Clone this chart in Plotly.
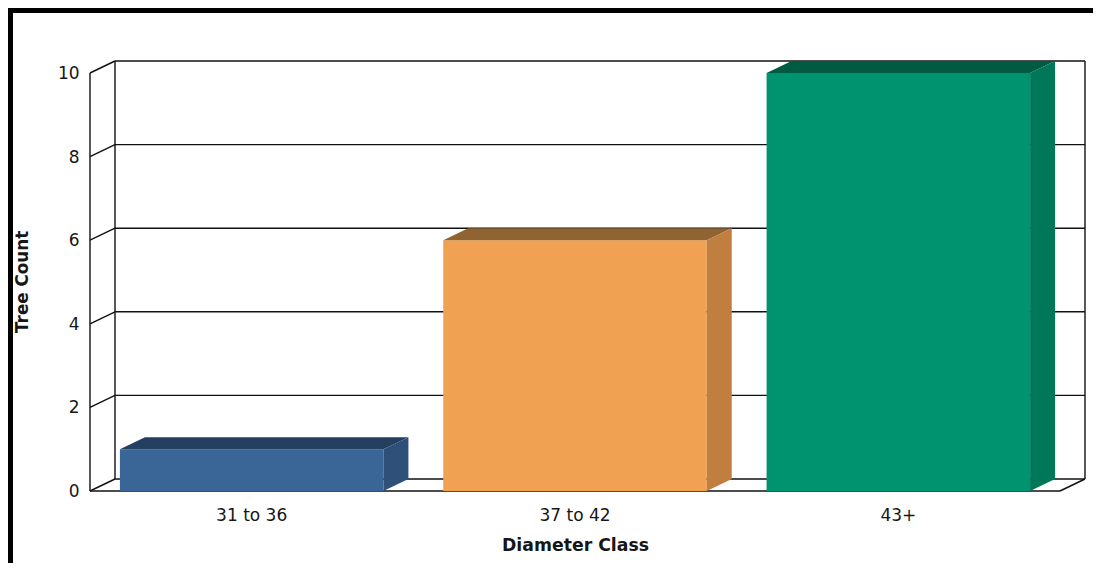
import plotly.graph_objects as go

# ---- data ----
categories = ["31 to 36", "37 to 42", "43+"]
tree_counts = [1, 6, 10]
y_ticks = [0, 2, 4, 6, 8, 10]
x_title = "Diameter Class"
y_title = "Tree Count"

# ---- style ----
front_colors = ["#3A6597", "#F0A252", "#00936F"]
top_colors = ["#243F60", "#8F6332", "#005B43"]
side_colors = ["#2E5079", "#C07F3E", "#007758"]
LINE = "#111111"
TEXT = "#161616"

OFF = 8               # page body margin in the browser
W, H = 1101 - 2 * OFF, 571 - 2 * OFF
UX = 970 / 3          # px per category
UY = 41.8             # px per unit
DX = 25 / UX          # depth offset (x units)
DY = 12 / UY          # depth offset (y units)
BAR_W = 0.815
PAD = 3

x_lo, x_hi = -0.5, len(categories) - 0.5
y_lo, y_hi = 0, 10

left_px = 90 - PAD - OFF
right_px = 90 + (x_hi - x_lo + DX) * UX + PAD - OFF
bot_px = 491 + PAD - OFF
top_px = 491 - (y_hi + DY) * UY - PAD - OFF

fig = go.Figure()

for i, (cat, v) in enumerate(zip(categories, tree_counts)):
    x0, x1 = i - BAR_W / 2, i + BAR_W / 2
    fig.add_trace(go.Scatter(x=[x0, x1, x1, x0, x0], y=[0, 0, v, v, 0], fill="toself",
                             fillcolor=front_colors[i], mode="lines", line=dict(width=0),
                             hoverinfo="skip", showlegend=False))
    fig.add_trace(go.Scatter(x=[x0, x0 + DX, x1 + DX, x1, x0], y=[v, v + DY, v + DY, v, v],
                             fill="toself", fillcolor=top_colors[i], mode="lines",
                             line=dict(width=0), hoverinfo="skip", showlegend=False))
    fig.add_trace(go.Scatter(x=[x1, x1 + DX, x1 + DX, x1, x1], y=[0, DY, v + DY, v, 0],
                             fill="toself", fillcolor=side_colors[i], mode="lines",
                             line=dict(width=0), hoverinfo="skip", showlegend=False))

shapes = []
def seg(xa, ya, xb, yb):
    shapes.append(dict(type="line", xref="x", yref="y", x0=xa, y0=ya, x1=xb, y1=yb,
                       line=dict(color=LINE, width=1.4), layer="below"))

for t in y_ticks:
    seg(x_lo + DX, t + DY, x_hi + DX, t + DY)
    seg(x_lo, t, x_lo + DX, t + DY)
seg(x_lo, y_lo, x_lo, y_hi)
seg(x_lo + DX, y_lo + DY, x_lo + DX, y_hi + DY)
seg(x_hi + DX, y_lo + DY, x_hi + DX, y_hi + DY)
seg(x_lo, y_lo, x_hi, y_lo)
seg(x_hi, y_lo, x_hi + DX, y_lo + DY)

plot_w = right_px - left_px
plot_h = bot_px - top_px
def px_x(p):
    return (p - OFF - left_px) / plot_w
def px_y(p):
    return (bot_px - (p - OFF)) / plot_h

def frame(xa, ya, xb, yb):
    shapes.append(dict(type="line", xref="paper", yref="paper",
                       x0=px_x(xa), y0=px_y(ya), x1=px_x(xb), y1=px_y(yb),
                       line=dict(color="black", width=8), layer="above"))

frame(9, 5, 9, 575)            # left
frame(5, 9, 1105, 9)           # top
frame(5, 567, 1105, 567)       # bottom

annotations = [
    dict(text=f"<b>{x_title}</b>", xref="paper", yref="paper", x=px_x(575), y=px_y(545),
         xanchor="center", yanchor="middle", showarrow=False,
         font=dict(family="DejaVu Sans", size=17.3, color=TEXT)),
    dict(text=f"<b>{y_title}</b>", xref="paper", yref="paper", x=px_x(22), y=px_y(282),
         xanchor="center", yanchor="middle", showarrow=False, textangle=-90,
         font=dict(family="DejaVu Sans", size=16.8, color=TEXT)),
]

fig.update_layout(
    width=W, height=H,
    margin=dict(l=left_px, r=W - right_px, t=top_px, b=H - bot_px, pad=0),
    paper_bgcolor="white", plot_bgcolor="white",
    shapes=shapes, annotations=annotations,
    xaxis=dict(range=[x_lo - PAD / UX, x_hi + DX + PAD / UX], showgrid=False, zeroline=False,
               showline=False, tickvals=list(range(len(categories))), ticktext=categories,
               ticks="outside", ticklen=6, tickcolor="rgba(0,0,0,0)",
               tickfont=dict(family="DejaVu Sans", size=17, color=TEXT), fixedrange=True),
    yaxis=dict(range=[y_lo - PAD / UY, y_hi + DY + PAD / UY], showgrid=False, zeroline=False,
               showline=False, tickvals=y_ticks, ticks="outside", ticklen=3,
               tickcolor="rgba(0,0,0,0)",
               tickfont=dict(family="DejaVu Sans", size=17, color=TEXT), fixedrange=True),
)

fig.write_html("out.html")
